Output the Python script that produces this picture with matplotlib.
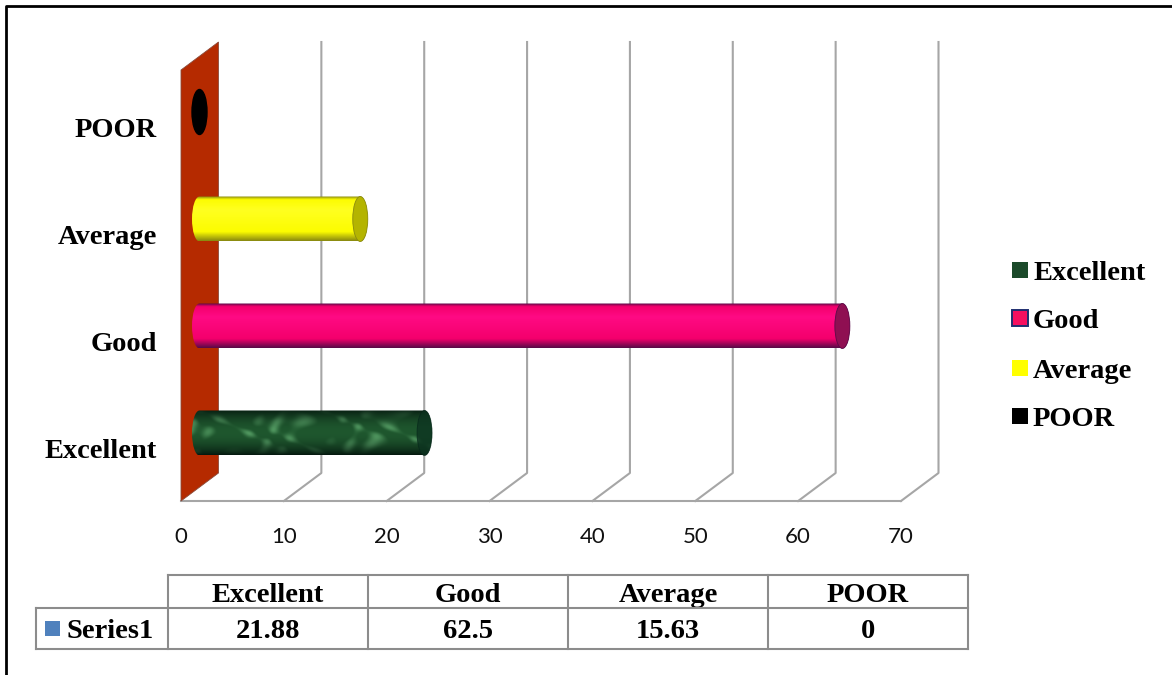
import numpy as np
import matplotlib
matplotlib.use("Agg")
import matplotlib.pyplot as plt
from matplotlib.patches import Ellipse, Polygon, Rectangle, PathPatch
from matplotlib.path import Path
from matplotlib.colors import LinearSegmentedColormap

categories = ["Excellent", "Good", "Average", "POOR"]
values = [21.88, 62.5, 15.63, 0]
x_ticks = [0, 10, 20, 30, 40, 50, 60, 70]
series_name = "Series1"
table_values = ["21.88", "62.5", "15.63", "0"]

W, H = 1172, 675
fig = plt.figure(figsize=(W / 100, H / 100), dpi=100)
ax = fig.add_axes([0, 0, 1, 1])
PXX = 720 / 70
PXY = 107.0
X0, Y0 = 181, 433
ax.set_xlim(-X0 / PXX, (W - X0) / PXX)
ax.set_ylim(-(H - Y0) / PXY, Y0 / PXY)
ax.axis("off")


def px(x, y):
    return (x - X0) / PXX, (Y0 - y) / PXY


serif = "Liberation Serif"
GRID = "#a6a6a6"

# frame
ax.plot(*zip(px(6, 675), px(6, 6.5), px(1172, 6.5)), color="black", lw=2.0, zorder=1,
        solid_capstyle="butt")

# gridlines (floor + back)
dx = 37.5
for t in x_ticks[1:]:
    fx = X0 + t * PXX
    ax.plot(*zip(px(fx, 501), px(fx + dx, 473), px(fx + dx, 42)), color=GRID, lw=1.5, zorder=1)
ax.plot(*zip(px(X0, 501), px(X0 + 70 * PXX, 501)), color=GRID, lw=1.5, zorder=1)

# wall
ax.add_patch(Polygon([px(181, 70), px(218.5, 42), px(218.5, 473), px(181, 501)],
                     closed=True, fc="#b52a00", ec="#8a4a3a", lw=0.6, zorder=2))

bar_h = 45 / PXY
half = 7.5 / PXX
offs = 18.5 / PXX
styles = {
    "Excellent": ("#2b7a4b", "#1a5a34", "#06261a", "#0c3320"),
    "Good": ("#ff0a84", "#f4006c", "#5a0a48", "#8f0f52"),
    "Average": ("#ffff20", "#fcfc00", "#8a8a10", "#b4b400"),
    "POOR": ("#151515", "#000000", "#000000", "#000000"),
}
KAPPA = 0.5523


def cylinder_path(x0, x1, y0, y1):
    """Outline of the whole tube, rounded at both ends."""
    ym = (y0 + y1) / 2
    r = (y1 - y0) / 2
    k = KAPPA
    verts = [(x0, y0), (x1, y0),
             (x1 + k * half, y0), (x1 + half, ym - k * r), (x1 + half, ym),
             (x1 + half, ym + k * r), (x1 + k * half, y1), (x1, y1),
             (x0, y1),
             (x0 - k * half, y1), (x0 - half, ym + k * r), (x0 - half, ym),
             (x0 - half, ym - k * r), (x0 - k * half, y0), (x0, y0)]
    codes = [Path.MOVETO, Path.LINETO] + [Path.CURVE4] * 6 + [Path.LINETO] + [Path.CURVE4] * 6
    return Path(verts, codes)


for i, (c, v) in enumerate(zip(categories, values)):
    light, mid, dark, cap = styles[c]
    x1 = v + offs
    x0 = offs
    y0, y1 = i - bar_h / 2, i + bar_h / 2
    if v > 0:
        ext = [x0 - half, x1 + half, y0, y1]
        if c == "Excellent":
            xs = np.linspace(0, 1, 240)
            ys = np.linspace(0, 1, 46)
            XX, YY = np.meshgrid(xs, ys)
            tex = (np.sin(27 * XX + 5 * YY + 2.2 * np.sin(7 * YY + 11 * XX))
                   + 0.7 * np.sin(53 * XX - 7 * YY + 1.4 * np.sin(19 * XX)))
            tex = np.clip(tex / 1.7, 0, 1) ** 1.5
            base = np.sin(np.pi * YY) ** 0.8
            r = 0.02 + 0.10 * base + 0.20 * tex * base
            g = 0.10 + 0.24 * base + 0.26 * tex * base
            b = 0.06 + 0.12 * base + 0.20 * tex * base
            img = np.dstack([r, g, b])
            im = ax.imshow(img, extent=ext, origin="lower", aspect="auto", zorder=3,
                           interpolation="bicubic")
        else:
            grad = np.repeat(np.linspace(0, 1, 64)[:, None], 2, axis=1)
            cm = LinearSegmentedColormap.from_list(
                "c", [(0, dark), (0.2, mid), (0.7, light), (0.93, mid), (1, dark)])
            im = ax.imshow(grad, extent=ext, origin="lower", cmap=cm, aspect="auto",
                           zorder=3, vmin=0, vmax=1)
        clip = PathPatch(cylinder_path(x0, x1, y0, y1), transform=ax.transData, fc="none", ec="none")
        ax.add_patch(clip)
        im.set_clip_path(clip)
        ax.add_patch(Ellipse((x1, i), 2 * half, bar_h, fc=cap, ec=dark, lw=0.6, zorder=4,
                             alpha=0.75 if c == "Excellent" else 1))
    else:
        ax.add_patch(Ellipse((x0, i), 2 * half, bar_h, fc="black", ec="black", zorder=4))
    ax.text(*px(157, 451.5 - i * PXY), c, ha="right", va="center",
            family=serif, weight="bold", fontsize=20.5, zorder=5)

# x tick labels
for t in x_ticks:
    ax.text(t, px(0, 537)[1], str(t), ha="center", va="center",
            family="Lato", fontsize=16, color="#111111")

# legend
leg_y = [270, 318, 368, 416]
leg_col = ["#1c4a2a", "#f50f5f", "#ffff00", "#000000"]
leg_ec = ["none", "#1f2f70", "none", "none"]
for c, y, fc, ec in zip(categories, leg_y, leg_col, leg_ec):
    xa, ya = px(1011.5, y + 8)
    ax.add_patch(Rectangle((xa, ya), 16 / PXX, 16 / PXY, fc=fc, ec=ec, lw=1.4, zorder=5))
    ax.text(*px(1033, y + 4), c, ha="left", va="center", family=serif, weight="bold", fontsize=20.5)

# data table
col_x = [168, 368, 568, 768, 968]
TC = "#8c8c8c"


def seg(a, b):
    ax.plot(*zip(px(*a), px(*b)), color=TC, lw=1.5, zorder=5, solid_capstyle="projecting")


seg((168, 575), (968, 575))
seg((36, 608), (968, 608))
seg((36, 649), (968, 649))
seg((36, 608), (36, 649))
for x in col_x:
    seg((x, 575), (x, 649))
for k, (c, v) in enumerate(zip(categories, table_values)):
    xc = (col_x[k] + col_x[k + 1]) / 2
    ax.text(*px(xc, 596), c, ha="center", va="center", family=serif, weight="bold", fontsize=20.5)
    ax.text(*px(xc, 631), v, ha="center", va="center", family=serif, weight="bold", fontsize=20.5)
xa, ya = px(45, 636)
ax.add_patch(Rectangle((xa, ya), 15 / PXX, 15 / PXY, fc="#4f81bd", ec="none", zorder=5))
ax.text(*px(66, 631), series_name, ha="left", va="center", family=serif, weight="bold", fontsize=20.5)

fig.savefig("out.png", dpi=100)
